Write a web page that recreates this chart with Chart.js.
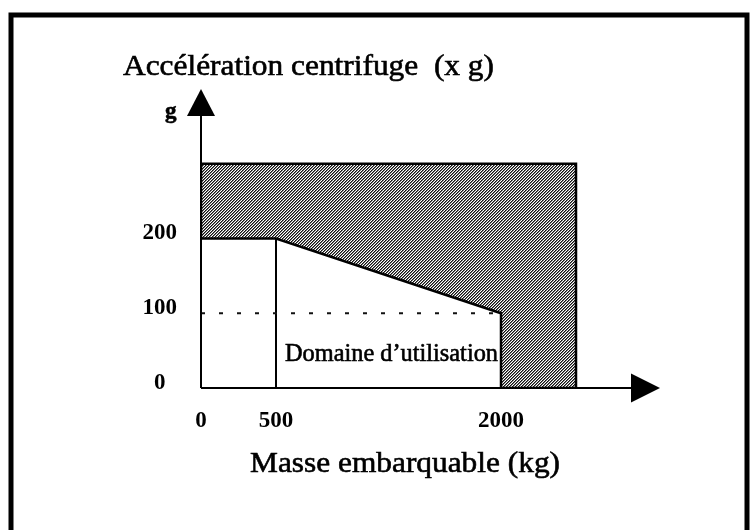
<!DOCTYPE html>
<html>
<head>
<meta charset="utf-8">
<script src="https://cdn.jsdelivr.net/npm/chart.js@4.4.1/dist/chart.umd.min.js"></script>
<style>
  html, body { margin: 0; padding: 0; background: #fff; }
  #wrap { width: 753px; height: 530px; position: relative; }
</style>
</head>
<body>
<div id="wrap"><canvas id="c" width="753" height="530"></canvas></div>
<script>
// ---- data ----
const xTickValues = [0, 500, 2000];
const xTickLabels = ['0', '500', '2000'];
const yTickValues = [0, 100, 200];
const yTickLabels = ['0', '100', '200'];
const xAxisMax = 3060;
const yAxisMax = 400;
// forbidden (hatched) zone outline: mass (kg), acceleration (g)
const hatchMass = [0, 500, 2000, 2000, 2500, 2500, 0, 0];
const hatchAccel = [200, 200, 100, 0, 0, 300, 300, 200];
// vertical separator at 500 kg
const sepMass = [500, 500];
const sepAccel = [0, 200];
// dashed reference line at 100 g
const refMass = [0, 2000];
const refAccel = [100, 100];
const titleY = 'Accélération centrifuge  (x g)';
const unitY = 'g';
const titleX = 'Masse embarquable (kg)';
const zoneLabel = 'Domaine d\u2019utilisation';

const toPts = (xs, ys) => xs.map((x, i) => ({ x: x, y: ys[i] }));

// dense "/" hatch pattern
function makeHatch() {
  const c = document.createElement('canvas');
  c.width = 3; c.height = 3;
  const g = c.getContext('2d');
  g.fillStyle = '#fff'; g.fillRect(0, 0, 3, 3);
  for (let y = 0; y < 3; y++) {
    for (let x = 0; x < 3; x++) {
      const k = (x + y) % 3;
      if (k === 1) { g.fillStyle = '#111'; g.fillRect(x, y, 1, 1); }
      else if (k === 2) { g.fillStyle = '#777'; g.fillRect(x, y, 1, 1); }
    }
  }
  return g.createPattern(c, 'repeat');
}

const FONT = '"Liberation Serif", "Times New Roman", serif';

function drawText(ctx, text, left, base, size, targetW, weight) {
  ctx.save();
  ctx.font = (weight || 'normal') + ' ' + size + 'px ' + FONT;
  ctx.fillStyle = '#000';
  ctx.strokeStyle = '#000';
  ctx.lineWidth = 0.6;
  ctx.textAlign = 'left';
  ctx.textBaseline = 'alphabetic';
  const w = ctx.measureText(text).width;
  ctx.translate(left, base);
  if (targetW) ctx.scale(targetW / w, 1);
  ctx.fillText(text, 0, 0);
  ctx.strokeText(text, 0, 0);
  ctx.restore();
}

const decor = {
  id: 'decor',
  beforeDraw(chart) {
    const ctx = chart.ctx;
    ctx.save();
    ctx.fillStyle = '#fff';
    ctx.fillRect(0, 0, chart.width, chart.height);
    ctx.strokeStyle = '#000';
    ctx.lineWidth = 5;
    ctx.beginPath();
    ctx.moveTo(11, 535); ctx.lineTo(11, 15); ctx.lineTo(747, 15); ctx.lineTo(747, 535);
    ctx.stroke();
    ctx.restore();
  },
  afterDraw(chart) {
    const ctx = chart.ctx;
    const xs = chart.scales.x, ys = chart.scales.y;
    const x0 = xs.getPixelForValue(0), y0 = ys.getPixelForValue(0);
    const xTip = xs.getPixelForValue(xAxisMax), yTip = ys.getPixelForValue(yAxisMax);
    ctx.save();
    ctx.strokeStyle = '#000';
    ctx.fillStyle = '#000';
    ctx.lineWidth = 2;
    ctx.beginPath();
    ctx.moveTo(x0, y0); ctx.lineTo(xTip - 20, y0);
    ctx.moveTo(x0, y0); ctx.lineTo(x0, yTip + 20);
    ctx.stroke();
    // arrows
    ctx.beginPath();
    ctx.moveTo(xTip, y0); ctx.lineTo(xTip - 29, y0 - 14.5); ctx.lineTo(xTip - 29, y0 + 14.5); ctx.closePath();
    ctx.fill();
    ctx.beginPath();
    ctx.moveTo(x0, yTip); ctx.lineTo(x0 - 14, yTip + 27); ctx.lineTo(x0 + 14, yTip + 27); ctx.closePath();
    ctx.fill();
    ctx.restore();
    drawText(ctx, titleY, 123, 75, 30, 371);
    drawText(ctx, titleX, 250, 472, 30, 310);
    drawText(ctx, unitY, 165, 118, 23, null, 'bold');
    drawText(ctx, zoneLabel, 285, 361, 25, 213);
  }
};

const hatch = makeHatch();
const tickFont = { family: FONT, size: 23, weight: 'bold' };

new Chart(document.getElementById('c'), {
  type: 'scatter',
  data: {
    datasets: [
      {
        data: toPts(hatchMass, hatchAccel),
        showLine: true,
        fill: 'shape',
        backgroundColor: hatch,
        borderColor: '#000',
        borderWidth: 2.5,
        pointRadius: 0,
        tension: 0,
        order: 3
      },
      {
        data: toPts(sepMass, sepAccel),
        showLine: true,
        borderColor: '#000',
        borderWidth: 2,
        pointRadius: 0,
        order: 2
      },
      {
        data: toPts(refMass, refAccel),
        showLine: true,
        borderColor: '#111',
        borderWidth: 1.8,
        borderDash: [4, 14],
        pointRadius: 0,
        order: 1
      }
    ]
  },
  options: {
    responsive: false,
    animation: false,
    devicePixelRatio: 1,
    layout: { padding: { left: 0, top: 89, right: 93, bottom: 0 } },
    plugins: { legend: { display: false }, tooltip: { enabled: false }, title: { display: false } },
    scales: {
      x: {
        type: 'linear', min: 0, max: xAxisMax,
        grid: { display: false, drawTicks: false },
        border: { display: false },
        afterBuildTicks: s => { s.ticks = xTickValues.map(v => ({ value: v })); },
        afterFit: s => { s.height = 142; },
        ticks: {
          color: '#000', font: tickFont, padding: 19, maxRotation: 0, autoSkip: false,
          callback: (v) => xTickLabels[xTickValues.indexOf(v)]
        }
      },
      y: {
        type: 'linear', min: 0, max: yAxisMax,
        grid: { display: false, drawTicks: false },
        border: { display: false },
        afterBuildTicks: s => { s.ticks = yTickValues.map(v => ({ value: v })); },
        afterFit: s => { s.width = 201; },
        ticks: {
          color: '#000', font: tickFont, padding: 24, crossAlign: 'center', labelOffset: -5, autoSkip: false,
          callback: (v) => yTickLabels[yTickValues.indexOf(v)]
        }
      }
    }
  },
  plugins: [decor]
});
</script>
</body>
</html>
